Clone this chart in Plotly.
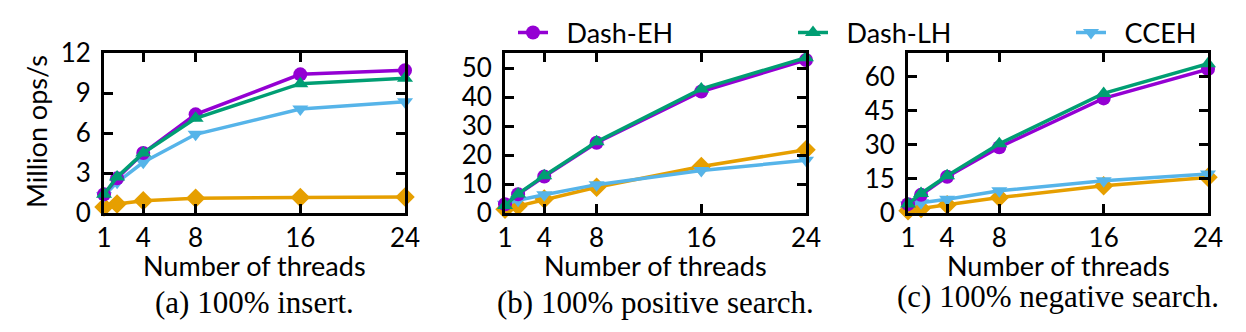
import plotly.graph_objects as go

threads = [1, 2, 4, 8, 16, 24]
x_ticks = [1, 4, 8, 16, 24]

# (a) 100% insert
a_dash_eh = [1.4, 2.6, 4.5, 7.4, 10.4, 10.7]
a_dash_lh = [1.4, 2.7, 4.5, 7.1, 9.7, 10.1]
a_cceh = [1.3, 2.3, 3.8, 5.9, 7.8, 8.35]
a_level = [0.45, 0.67, 0.92, 1.1, 1.17, 1.2]

# (b) 100% positive search
b_dash_eh = [3.0, 6.5, 12.6, 24.3, 42.0, 52.9]
b_dash_lh = [2.6, 6.6, 12.9, 24.6, 42.9, 53.7]
b_cceh = [3.0, 4.4, 6.3, 9.8, 14.7, 18.2]
b_level = [1.3, 2.4, 4.8, 8.9, 16.1, 21.9]

# (c) 100% negative search
c_dash_eh = [3.9, 8.0, 16.0, 29.0, 50.5, 63.4]
c_dash_lh = [4.0, 8.6, 16.4, 30.5, 52.7, 65.8]
c_cceh = [3.5, 4.5, 6.1, 9.8, 14.2, 17.2]
c_level = [1.0, 2.0, 3.6, 6.8, 12.0, 15.7]

y_ranges = [[0, 12], [0, 55.3], [0, 70.5]]
y_ticks = [[0, 3, 6, 9, 12], [0, 10, 20, 30, 40, 50], [0, 15, 30, 45, 60]]
captions = ["(a) 100% insert.", "(b) 100% positive search.", "(c) 100% negative search."]

series_names = ["Dash-EH", "Dash-LH", "CCEH", "Level hashing"]
colors = ["#9400D3", "#009E73", "#56B4E9", "#E69F00"]
symbols = ["circle", "triangle-up", "triangle-down", "diamond"]
panels = [
    [a_dash_eh, a_dash_lh, a_cceh, a_level],
    [b_dash_eh, b_dash_lh, b_cceh, b_level],
    [c_dash_eh, c_dash_lh, c_cceh, c_level],
]

W, H = 1246, 332
x_px = [(104, 405), (505, 806), (908, 1208)]
y_top, y_bot = 53, 213
legend_x = [513, 793, 1071]
legend_ids = ["legend", "legend2", "legend3"]

fig = go.Figure()
for p, data in enumerate(panels):
    xa = "x" if p == 0 else f"x{p+1}"
    ya = "y" if p == 0 else f"y{p+1}"
    for s in [3, 2, 0, 1]:
        fig.add_trace(go.Scatter(
            x=threads, y=data[s], xaxis=xa, yaxis=ya,
            mode="lines+markers", name="\u2002" + series_names[s],
            line=dict(color=colors[s], width=3.5),
            marker=dict(symbol=symbols[s], size=14 if s != 3 else 15, color=colors[s]),
            showlegend=(p == 0 and s != 3),
            legend=legend_ids[s] if s != 3 else "legend",
            cliponaxis=False,
        ))

FONT = "Lato, Carlito, sans-serif"
axis_font = dict(family=FONT, size=26, color="black")
layout = dict(
    width=W, height=H, margin=dict(l=0, r=0, t=0, b=0, autoexpand=False),
    paper_bgcolor="white", plot_bgcolor="white",
    showlegend=True,
)
for i, lid in enumerate(legend_ids):
    layout[lid] = dict(orientation="h", x=legend_x[i] / W, y=1 - 33 / H,
                       xanchor="left", yanchor="middle",
                       font=dict(family=FONT, size=27, color="black"),
                       bgcolor="rgba(0,0,0,0)", itemsizing="trace")
annotations = []
for p in range(3):
    sx = "" if p == 0 else str(p + 1)
    x0, x1 = x_px[p]
    layout[f"xaxis{sx}"] = dict(
        domain=[x0 / W, x1 / W], anchor=f"y{sx}", range=[1, 24],
        tickvals=x_ticks, ticktext=[str(t) for t in x_ticks],
        ticks="inside", ticklen=9, tickwidth=3, tickcolor="black",
        showline=True, linewidth=3, linecolor="black", mirror="allticks",
        showgrid=False, zeroline=False, tickfont=axis_font, ticklabelstandoff=0,
        automargin=False,
    )
    layout[f"yaxis{sx}"] = dict(
        domain=[1 - y_bot / H, 1 - y_top / H], anchor=f"x{sx}", range=y_ranges[p],
        tickvals=y_ticks[p], ticks="inside", ticklen=9, tickwidth=3, tickcolor="black",
        showline=True, linewidth=3, linecolor="black", mirror="allticks",
        showgrid=False, zeroline=False, tickfont=axis_font, ticklabelstandoff=5,
        automargin=False,
    )
    cx = (x0 + x1) / 2
    annotations.append(dict(text="Number of threads", x=cx / W, y=1 - 265 / H,
                            xref="paper", yref="paper", showarrow=False,
                            xanchor="center", yanchor="middle",
                            font=dict(family=FONT, size=27, color="black")))
    cy = 302 if p < 2 else 296
    annotations.append(dict(text=captions[p], x=cx / W, y=1 - cy / H,
                            xref="paper", yref="paper", showarrow=False,
                            xanchor="center", yanchor="middle",
                            font=dict(family="Liberation Serif, Times New Roman, serif", size=31, color="black")))
annotations.append(dict(text="Million ops/s", x=36 / W, y=1 - 132 / H, textangle=-90,
                        xref="paper", yref="paper", showarrow=False,
                        xanchor="center", yanchor="middle",
                        font=dict(family=FONT, size=27, color="black")))
layout["annotations"] = annotations
fig.update_layout(**layout)
fig.write_html("out.html")
